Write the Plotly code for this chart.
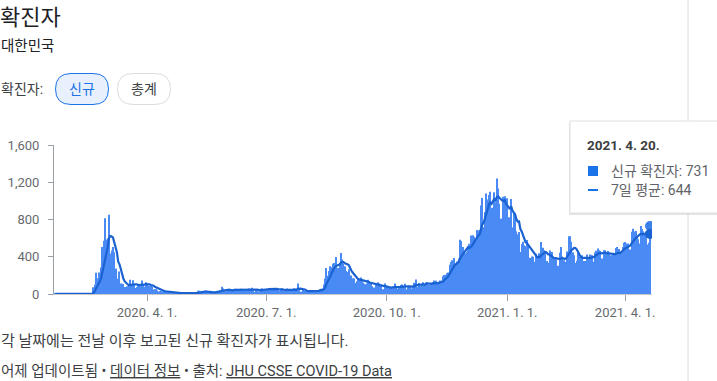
import pandas as pd
import plotly.graph_objects as go

# ---- data (daily new confirmed cases, South Korea) ----
start_date = "2020-01-22"
jan_2020 = [1, 0, 1, 0, 1, 1, 0, 0, 0, 7]
feb_2020 = [1, 3, 0, 1, 3, 4, 1, 0, 1, 2, 1, 0, 0, 0, 0, 1, 1, 1, 0, 73,
            100, 229, 169, 231, 144, 284, 505, 571, 813]
mar_2020 = [586, 599, 851, 435, 467, 505, 448, 273, 164, 131, 242, 114, 110, 107, 76, 74, 84, 93, 152, 87,
            147, 98, 64, 76, 100, 104, 91, 146, 105, 78, 125]
apr_2020 = [101, 89, 86, 94, 81, 47, 47, 53, 39, 27, 30, 32, 25, 27, 27, 22, 22, 18, 8, 13,
            9, 11, 8, 6, 10, 10, 10, 14, 9, 4]
may_2020 = [9, 6, 13, 8, 3, 2, 4, 12, 18, 34, 35, 27, 26, 29, 27, 19, 13, 15, 13, 32,
            12, 20, 23, 25, 16, 19, 40, 79, 58, 39, 27]
jun_2020 = [35, 38, 49, 39, 39, 51, 57, 38, 38, 50, 45, 56, 49, 37, 34, 37, 43, 59, 49, 67,
            48, 17, 46, 51, 28, 39, 51, 62, 42, 43]
jul_2020 = [51, 54, 63, 63, 61, 48, 44, 62, 50, 45, 35, 44, 62, 39, 33, 39, 60, 39, 34, 26,
            45, 63, 59, 41, 113, 58, 25, 28, 48, 18, 36]
aug_2020 = [31, 30, 23, 33, 43, 20, 43, 36, 28, 34, 54, 56, 56, 103, 166, 279, 197, 246, 297, 288,
            324, 332, 397, 266, 280, 320, 441, 371, 323, 299, 248]
sep_2020 = [235, 267, 195, 198, 168, 167, 119, 136, 156, 155, 176, 136, 121, 109, 106, 113, 153, 126, 110, 82,
            70, 61, 110, 125, 114, 61, 95, 50, 38, 113]
oct_2020 = [77, 63, 75, 64, 73, 75, 114, 69, 54, 72, 58, 97, 102, 84, 110, 47, 73, 91, 76, 58,
            91, 121, 155, 77, 61, 119, 88, 103, 125, 114, 127]
nov_2020 = [124, 97, 75, 118, 125, 145, 89, 143, 126, 100, 146, 143, 191, 205, 208, 223, 230, 313, 343, 363,
            386, 330, 271, 349, 382, 583, 569, 504, 450, 438]
dec_2020 = [451, 511, 540, 629, 583, 631, 615, 594, 686, 682, 689, 950, 1030, 718, 880, 1078, 1014, 1062, 1097, 926,
            869, 1092, 985, 1241, 1132, 970, 807, 808, 1045, 1050, 967]
jan_2021 = [1029, 824, 657, 1020, 715, 869, 870, 674, 641, 665, 451, 537, 562, 524, 513, 580, 520, 389, 386, 404,
            401, 346, 431, 392, 437, 349, 559, 497, 469, 458, 355]
feb_2021 = [305, 336, 467, 451, 393, 370, 372, 289, 303, 444, 504, 403, 362, 326, 344, 457, 621, 621, 561, 448,
            416, 332, 357, 440, 396, 406, 415, 355]
mar_2021 = [355, 344, 424, 398, 424, 418, 416, 346, 446, 465, 488, 470, 462, 382, 363, 469, 469, 445, 463, 452,
            415, 346, 428, 430, 494, 505, 482, 382, 447, 506, 551]
apr_2021 = [558, 543, 543, 473, 478, 668, 700, 671, 677, 614, 587, 542, 731, 698, 673, 658, 672, 532, 549, 731]

x_tick_vals = ["2020-04-01", "2020-07-01", "2020-10-01", "2021-01-01", "2021-04-01"]
x_tick_text = ["2020. 4. 1.", "2020. 7. 1.", "2020. 10. 1.", "2021. 1. 1.", "2021. 4. 1."]
y_tick_vals = [0, 400, 800, 1200, 1600]

series_name_bar = "신규 확진자"
series_name_avg = "7일 평균"

values = (jan_2020 + feb_2020 + mar_2020 + apr_2020 + may_2020 + jun_2020 + jul_2020 + aug_2020 +
          sep_2020 + oct_2020 + nov_2020 + dec_2020 + jan_2021 + feb_2021 + mar_2021 + apr_2021)
dates = pd.date_range(start_date, periods=len(values), freq="D")
s = pd.Series(values, index=dates)
avg7 = s.rolling(7, min_periods=1).mean()

# ---- geometry helpers (pixel -> paper) ----
W, H = 717, 381
L, R, T, B = 54, 652, 145, 294


def px(x):
    return (x - L) / (R - L)


def py(y):
    return (B - y) / (B - T)


BAR_C = "#4a8af4"
LINE_C = "#1a62d2"
FONT = "Roboto, 'Noto Sans CJK KR', sans-serif"
TICK_C = "#666a6e"

fig = go.Figure()
fig.add_trace(go.Bar(x=dates, y=s.values, marker=dict(color=BAR_C, line=dict(width=0)),
                     name=series_name_bar, hoverinfo="skip"))
fig.add_trace(go.Scatter(x=dates, y=avg7.values, mode="lines", line=dict(color=LINE_C, width=2.2),
                         name=series_name_avg, hoverinfo="skip"))
# hover markers at last point
fig.add_trace(go.Scatter(x=[dates[-1]], y=[s.values[-1]], mode="markers",
                         marker=dict(color="#3b7fe8", size=10), hoverinfo="skip"))
fig.add_trace(go.Scatter(x=[dates[-1]], y=[avg7.values[-1]], mode="markers",
                         marker=dict(color=LINE_C, size=10), hoverinfo="skip"))

shapes = []
annotations = []

# right panel border
shapes.append(dict(type="line", xref="paper", yref="paper", x0=px(688), x1=px(688), y0=py(0), y1=py(381),
                   line=dict(color="#dadce0", width=1), layer="above"))


def pill(x0, y0, x1, y1, fill, border):
    r = (y1 - y0) / 2
    pts = [
        ("M", x0 + r, y0), ("L", x1 - r, y0), ("Q", x1, y0, x1, y0 + r), ("Q", x1, y1, x1 - r, y1),
        ("L", x0 + r, y1), ("Q", x0, y1, x0, y0 + r), ("Q", x0, y0, x0 + r, y0)
    ]
    path = ""
    for p in pts:
        cmd = p[0]
        coords = p[1:]
        parts = []
        for i in range(0, len(coords), 2):
            parts.append(f"{px(coords[i]):.5f},{py(coords[i + 1]):.5f}")
        path += cmd + " ".join(parts) + " "
    path += "Z"
    return dict(type="path", xref="paper", yref="paper", path=path, fillcolor=fill,
                line=dict(color=border, width=1), layer="above")


shapes.append(pill(55.5, 73.5, 108.5, 104.5, "#e8f0fe", "#1a73e8"))
shapes.append(pill(117.5, 73.5, 170.5, 104.5, "#ffffff", "#dadce0"))

# tooltip box with shadow
shapes.append(dict(type="rect", xref="paper", yref="paper", x0=px(569), x1=px(722), y0=py(122), y1=py(215),
                   fillcolor="rgba(0,0,0,0.10)", line=dict(width=0), layer="above"))
shapes.append(dict(type="rect", xref="paper", yref="paper", x0=px(570), x1=px(722), y0=py(121), y1=py(213),
                   fillcolor="#ffffff", line=dict(color="#e0e0e0", width=1), layer="above"))
shapes.append(dict(type="rect", xref="paper", yref="paper", x0=px(588), x1=px(598), y0=py(166), y1=py(176),
                   fillcolor="#1a73e8", line=dict(width=0), layer="above"))
shapes.append(dict(type="line", xref="paper", yref="paper", x0=px(588), x1=px(598), y0=py(190), y1=py(190),
                   line=dict(color="#1a73e8", width=2), layer="above"))


def text(x, y, t, size, color, anchor="left"):
    annotations.append(dict(xref="paper", yref="paper", x=px(x), y=py(y), text=t, showarrow=False,
                            xanchor=anchor, yanchor="middle", font=dict(size=size, color=color, family=FONT)))


text(-2, 17, "확진자", 22, "#202124")
text(-1, 46, "대한민국", 14.5, "#202124")
text(-1, 89, "확진자:", 14, "#3c4043")
text(82, 89, "신규", 14, "#1a73e8", "center")
text(144, 89, "총계", 14, "#3c4043", "center")
text(-1, 341, "각 날짜에는 전날 이후 보고된 신규 확진자가 표시됩니다.", 15, "#3c4043")
text(-1, 371, "어제 업데이트됨 • <u>데이터 정보</u> • 출처: <u>JHU CSSE COVID-19 Data</u>", 14.5, "#3c4043")
text(585, 145, "<b>2021. 4. 20.</b>", 13.5, "#3c4043")
text(609, 171, f"{series_name_bar}: {values[-1]}", 14, "#5f6368")
text(609, 190, f"{series_name_avg}: {int(avg7.values[-1])}", 14, "#5f6368")

fig.update_layout(
    width=W, height=H, autosize=False,
    margin=dict(l=L, r=W - R, t=T, b=H - B, pad=0, autoexpand=False),
    paper_bgcolor="white", plot_bgcolor="white",
    showlegend=False, bargap=0.2,
    font=dict(family=FONT, size=13, color=TICK_C),
    shapes=shapes, annotations=annotations,
    hovermode=False,
)
fig.update_xaxes(type="date", range=["2020-01-21", "2021-04-21 12:00"], tickvals=x_tick_vals, ticktext=x_tick_text,
                 showgrid=False, showline=True, linecolor="#c8c8c8", linewidth=1, ticks="outside", ticklen=6,
                 tickcolor="#9aa0a6", tickfont=dict(size=13, color=TICK_C), zeroline=False, automargin=False)
fig.update_yaxes(range=[0, 1600], tickvals=y_tick_vals, tickformat=",", showgrid=False, showline=True,
                 linecolor="#9aa0a6", linewidth=1, ticks="outside", ticklen=5, tickcolor="#9aa0a6",
                 ticklabelstandoff=6, tickfont=dict(size=13, color=TICK_C), zeroline=False, automargin=False)

fig.write_html("out.html", config={"displayModeBar": False},
               post_script="document.body.style.margin='0';document.body.style.overflow='hidden';")
